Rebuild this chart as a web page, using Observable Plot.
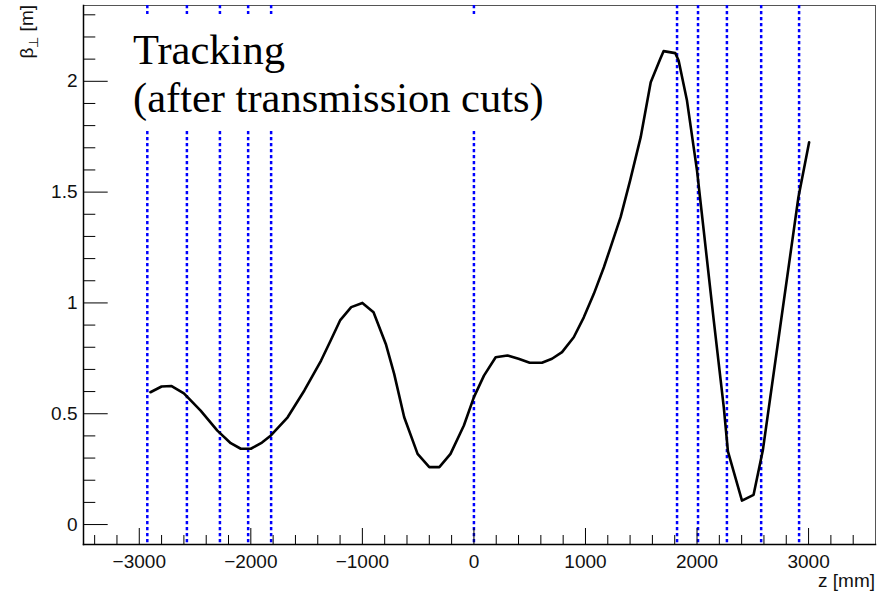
<!DOCTYPE html>
<html><head><meta charset="utf-8">
<script src="https://cdn.jsdelivr.net/npm/d3@7"></script>
<script src="https://cdn.jsdelivr.net/npm/@observablehq/plot@0.6"></script>
<style>
body{margin:0;background:#fff}
#chart{position:relative;width:886px;height:593px}
</style>
</head><body><div id="chart"></div>
<script>
const zValues = [-2900,-2800,-2710,-2600,-2450,-2300,-2180,-2090,-2000,-1900,-1820,-1670,-1520,-1370,-1280,-1200,-1100,-1000,-900,-790,-715,-625,-505,-400,-310,-210,-90,0,90,195,300,400,500,610,700,790,895,985,1075,1165,1225,1315,1400,1495,1585,1670,1700,1805,1835,1910,2000,2060,2150,2240,2277,2403,2507,2590,2745,2909,3005];
const betaValues = [0.597,0.623,0.625,0.592,0.514,0.424,0.367,0.342,0.342,0.37,0.402,0.484,0.605,0.740,0.835,0.921,0.981,1.000,0.958,0.815,0.680,0.484,0.319,0.259,0.259,0.319,0.447,0.575,0.672,0.755,0.763,0.748,0.730,0.730,0.748,0.778,0.845,0.935,1.041,1.161,1.251,1.387,1.552,1.748,1.996,2.101,2.136,2.127,2.094,1.913,1.597,1.327,0.921,0.529,0.33,0.108,0.134,0.335,0.890,1.477,1.725];
const markerZ = [-2928,-2573,-2277,-2024,-1818,0,1821,2009,2268,2575,2915];
const xMajorTicks = [-3000,-2000,-1000,0,1000,2000,3000];
const xMinorTicks = [-3400,-3200,-2800,-2600,-2400,-2200,-1800,-1600,-1400,-1200,-800,-600,-400,-200,200,400,600,800,1200,1400,1600,1800,2200,2400,2600,2800,3200,3400];
const yMajorTicks = [0,0.5,1,1.5,2];
const yMinorTicks = [0.1,0.2,0.3,0.4,0.6,0.7,0.8,0.9,1.1,1.2,1.3,1.4,1.6,1.7,1.8,1.9,2.1,2.2,2.3];
const xDomain = [-3500,3600];
const yDomain = [-0.09,2.342];
const titleLines = ["Tracking","(after transmission cuts)"];

const data = zValues.map((z,i)=>({z, beta: betaValues[i]}));
const blank = () => "";
const FS = 19;

const plot = Plot.plot({
  width: 886, height: 593,
  marginLeft: 83, marginRight: 11, marginTop: 5, marginBottom: 49,
  x: {domain: xDomain},
  y: {domain: yDomain},
  style: {fontFamily: "'Liberation Sans', Arial, sans-serif", fontSize: FS + "px", color: "#000", background: "#fff"},
  marks: [
    Plot.frame({stroke: "#555", strokeWidth: 1}),
    Plot.ruleX(markerZ, {stroke: "#0000ff", strokeWidth: 2.5, strokeDasharray: "3.3,2.7"}),
    Plot.line(data, {x: "z", y: "beta", stroke: "#000", strokeWidth: 2.6}),
    Plot.frame({anchor: "bottom", stroke: "#000", strokeWidth: 1.5}),
    Plot.frame({anchor: "left", stroke: "#000", strokeWidth: 1.5}),
    Plot.axisX({ticks: xMajorTicks, tickSize: -16, tickFormat: blank, label: null}),
    Plot.axisX({ticks: xMinorTicks, tickSize: -9, tickFormat: blank, label: null}),
    Plot.axisX({ticks: xMajorTicks, tickSize: 0, tickPadding: 10, tickFormat: d3.format("d"), label: null, fill: "#111", fontSize: FS}),
    Plot.axisY({ticks: yMajorTicks, tickSize: -24.7, tickFormat: blank, label: null}),
    Plot.axisY({ticks: yMinorTicks, tickSize: -12.3, tickFormat: blank, label: null}),
    Plot.axisY({ticks: yMajorTicks, tickSize: 0, tickPadding: 6, tickFormat: d => String(d), label: null, fill: "#111", fontSize: FS})
  ]
});
document.getElementById("chart").appendChild(plot);

const svg = d3.select(plot);
// annotation box (white pave) with the title text
const g = svg.append("g");
g.append("rect").attr("x",125).attr("y",14).attr("width",435).attr("height",116).attr("fill","#fff");
g.selectAll("text.t").data(titleLines).join("text")
  .attr("class","t")
  .attr("x",133)
  .attr("y",(d,i)=>64.3 + i*47.4)
  .attr("text-anchor","start")
  .style("font-family","'Liberation Serif','Times New Roman',serif")
  .style("font-size","42.5px")
  .attr("fill","#000")
  .text(d=>d);

// axis titles
svg.append("text")
  .attr("x",875).attr("y",587)
  .attr("text-anchor","end")
  .style("font-family","'Liberation Sans', Arial, sans-serif")
  .style("font-size",FS + "px")
  .attr("fill","#111")
  .text("z [mm]");

const yt = svg.append("text")
  .attr("transform","translate(33,5) rotate(-90)")
  .attr("text-anchor","end")
  .style("font-family","'Liberation Sans', Arial, sans-serif")
  .style("font-size",FS + "px")
  .attr("fill","#111");
yt.append("tspan").text("β");
yt.append("tspan").attr("dy",5).style("font-size","13px").text("⊥");
yt.append("tspan").attr("dy",-5).text(" [m]");
</script>
</body></html>
